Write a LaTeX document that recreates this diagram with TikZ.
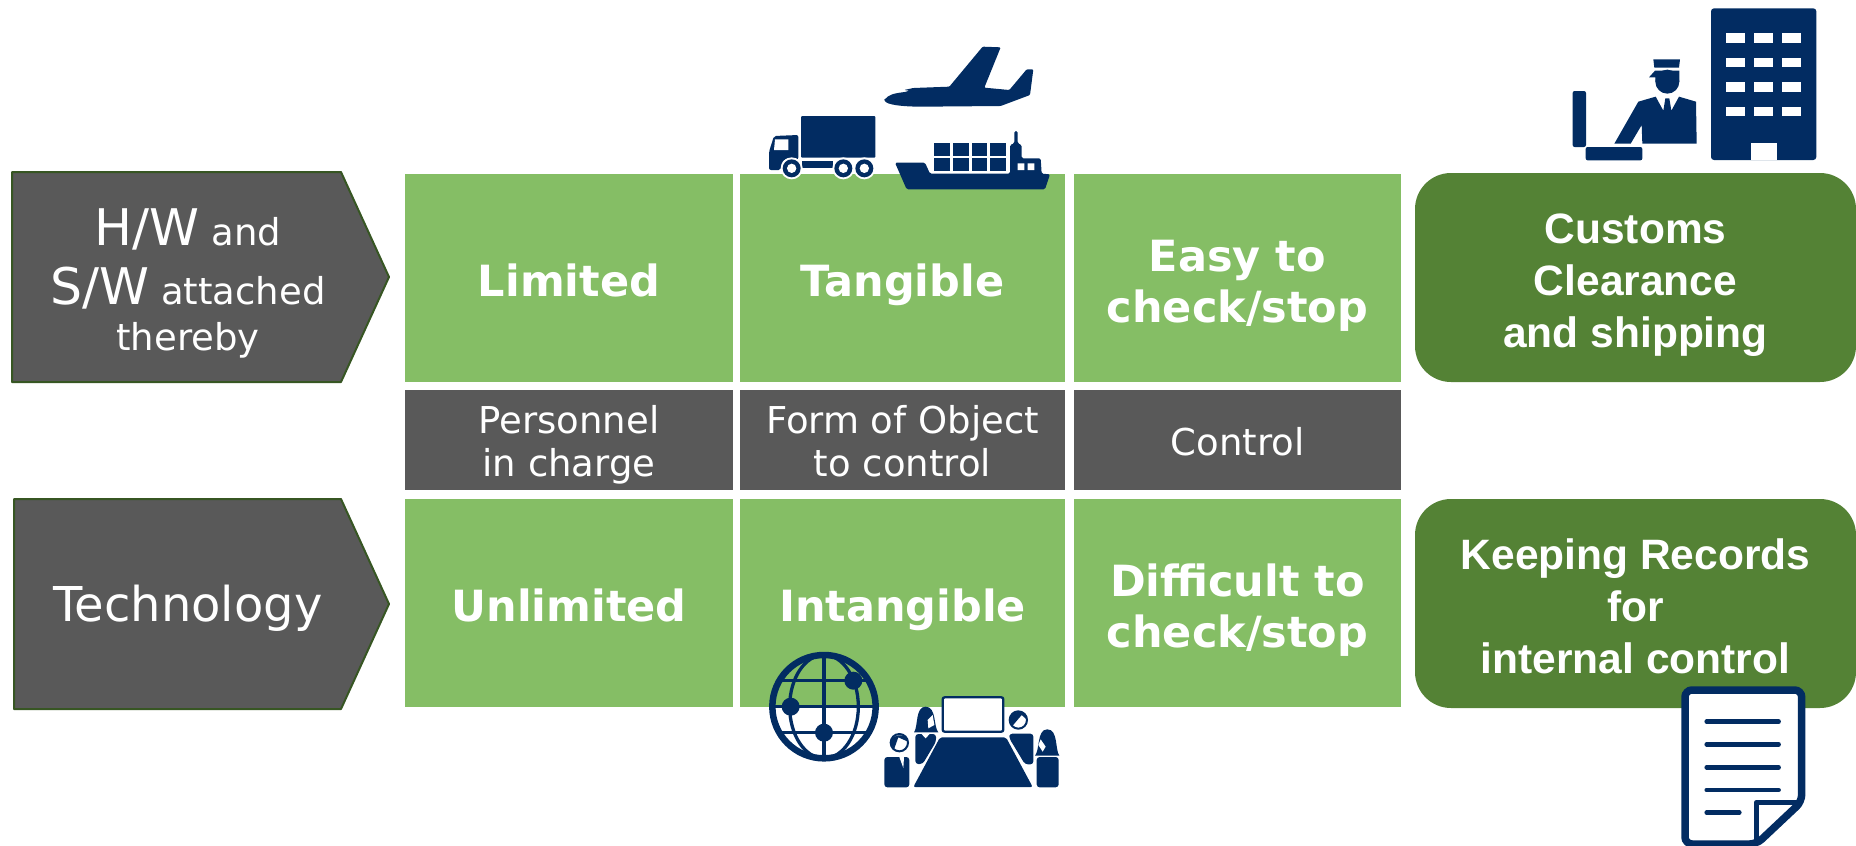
\documentclass[tikz,border=0pt]{standalone}
\usepackage{fontspec}
\setmainfont{DejaVu Sans}
\newfontfamily\arialfont{Liberation Sans}
\definecolor{cellgreen}{HTML}{85BE65}
\definecolor{boxgreen}{HTML}{548235}
\definecolor{rimgreen}{HTML}{375623}
\definecolor{cellgray}{HTML}{595959}
\definecolor{navy}{HTML}{022C62}
\tikzset{
  greencell/.style={fill=cellgreen,text=white,minimum width=#1,minimum height=208pt,inner sep=0pt,align=center,font=\fontsize{43}{51}\selectfont\bfseries},
  graycell/.style={fill=cellgray,text=white,minimum width=#1,minimum height=100pt,inner sep=0pt,align=center,font=\fontsize{37}{43}\selectfont},
  greenbox/.style={fill=boxgreen,text=white,rounded corners=36pt,minimum width=441pt,minimum height=209pt,inner sep=0pt,align=center,font=\fontsize{42.5}{52}\selectfont\arialfont\bfseries},
  arrowbox/.style={fill=cellgray,draw=rimgreen,line width=2pt,line join=round},
  arrowtext/.style={text=white,inner sep=0pt,align=center,font=\fontsize{37}{46}\selectfont},
  icon/.style={fill=navy,draw=none},
  iconline/.style={draw=navy,line cap=round}
}
\newcommand{\bigtxt}[1]{{\fontsize{50.5}{46}\selectfont #1}}
\newcommand{\up}[1]{\rule{0pt}{#1pt}}
\newcommand{\down}[1]{\rule[-#1pt]{0pt}{#1pt}}
\begin{document}
\begin{tikzpicture}[x=1pt,y=-1pt]
\useasboundingbox (0,0) rectangle (1856,846);
\draw[arrowbox] (12,172) -- (341,172) -- (389,277) -- (341,382) -- (12,382) -- cycle;
\draw[arrowbox] (14,499) -- (341,499) -- (389,604) -- (341,709) -- (14,709) -- cycle;
\node[arrowtext] (hwsw) at (188,283) {\bigtxt{H/W} and\\[13pt]\bigtxt{S/W} attached\\thereby};
\node[arrowtext,font=\fontsize{48}{46}\selectfont] (technology) at (188,608) {Technology};

\node[greencell=328pt] (limited) at (569,277.5) {\up{53}Limited\down{15}};
\node[greencell=325pt] (tangible) at (902.5,277.5) {\up{53}Tangible\down{15}};
\node[greencell=327pt] (easy) at (1237.5,277.5) {\up{53}Easy to\\check/stop\down{15}};
\node[graycell=328pt] (personnel) at (569,440) {\up{40}Personnel\\in charge\down{10}};
\node[graycell=325pt] (form) at (902.5,440) {\up{40}Form of Object\\to control\down{10}};
\node[graycell=327pt] (control) at (1237.5,440) {\up{40}Control\down{10}};
\node[greencell=328pt] (unlimited) at (569,602.5) {\up{53}Unlimited\down{15}};
\node[greencell=325pt] (intangible) at (902.5,602.5) {\up{53}Intangible\down{15}};
\node[greencell=327pt] (difficult) at (1237.5,602.5) {\up{53}Difficult to\\check/stop\down{15}};
\node[greenbox] (customs) at (1635.5,277.5) {\up{50}Customs\\Clearance\\and shipping\down{14}};
\node[greenbox] (records) at (1635.5,603.5) {\up{50}Keeping Records\\for\\internal control\down{14}};

\begin{scope}[shift={(750,30)},scale=1/3]
\fill[icon,rounded corners=1pt] (153,258) rectangle (376,383);
\fill[icon,rounded corners=2pt] (57,420) -- (57,365) -- (72,318) -- (145,315) -- (145,388) -- (100,388) -- (92,420) -- cycle;
\fill[white] (75,328) -- (115,328) -- (115,360) -- (72,360) -- cycle;
\fill[icon] (155,392) rectangle (250,415);
\foreach \wx in {125,280,343} {
  \fill[white] (\wx,415) circle (33);
  \fill[icon] (\wx,415) circle (27);
  \fill[white] (\wx,415) circle (14);
}
\fill[icon,rounded corners=1pt] (403,210) .. controls (415,195) and (430,190) .. (465,186) -- (478,182) -- (462,180) -- (490,174) -- (598,170) -- (698,50) -- (752,52) -- (703,173) -- (778,180) -- (830,118) -- (850,118) -- (840,195) -- (752,228) -- (520,230) .. controls (460,230) and (410,225) .. (403,210) -- cycle;
\fill[icon,rounded corners=1.5pt] (435,398) -- (525,398) -- (540,431) -- (780,431) -- (780,345) -- (793,340) -- (793,303) -- (803,303) -- (803,340) -- (815,345) -- (815,385) -- (872,385) -- (875,431) -- (900,433) -- (885,478) -- (470,478) -- cycle;
\fill[white] (803,400) rectangle (823,420) (833,400) rectangle (853,420);
\foreach \cx in {553,609,665,720} {
  \fill[icon] (\cx,340) rectangle +(47,37);
  \fill[icon] (\cx,385) rectangle +(47,37);
}
\end{scope}

\begin{scope}[shift={(1560,0)},scale=1/3]
\fill[icon,rounded corners=2pt] (38,273) rectangle (78,441);
\fill[icon,rounded corners=2pt] (77,441) rectangle (247,481);
\fill[icon] (280,178) -- (360,178) -- (357,203) -- (283,203) -- cycle;
\fill[icon] (267,232) -- (285,212) -- (358,212) -- (358,245) -- (286,245) -- (286,232) -- cycle;
\fill[icon] (322,245) circle (36);
\fill[icon] (163,431) -- (235,305) -- (287,290) -- (310,332) -- (316,295) -- (328,295) -- (334,332) -- (357,290) -- (408,305) -- (410,431) -- (247,431) -- (245,375) -- (212,431) -- cycle;
\fill[icon,rounded corners=3pt] (453,25) rectangle (769,480);
\fill[white] (572,428) rectangle (651,481);
\foreach \bx in {498,583,667}
  \foreach \by in {100,174,247,321}
    \fill[white] (\bx,\by) rectangle +(57,28);
\end{scope}

\begin{scope}[shift={(750,640)},scale=1/3]
\begin{scope}
\clip (222,200) circle (160);
\draw[navy,line width=3.3pt] (62,200) -- (382,200) (222,40) -- (222,360);
\draw[navy,line width=3.3pt] (62,122) -- (382,122) (62,277) -- (382,277);
\draw[navy,line width=3.3pt] (222,200) ellipse (103 and 155);
\end{scope}
\draw[navy,line width=6.5pt] (222,200) circle (155);
\fill[icon] (310,122) circle (27) (122,200) circle (27) (222,278) circle (27);
\draw[draw=navy,fill=white,line width=2.3pt,rounded corners=2pt] (578,172) rectangle (760,275);
\fill[icon,rounded corners=2pt] (570,292) -- (768,292) -- (848,441) -- (490,441) -- cycle;
\fill[icon,rounded corners=3pt] (403,351) -- (478,351) -- (478,442) -- (403,442) -- cycle;
\fill[white] (448,351) -- (462,351) -- (460,384) -- cycle;
\draw[draw=navy,fill=white,line width=2pt] (448,308) circle (26);
\fill[icon] (422,308) .. controls (425,280) and (470,278) .. (474,305) -- (445,292) -- (432,328) -- cycle;
\fill[icon,rounded corners=3pt] (496,282) -- (558,282) -- (558,305) -- (518,372) -- (496,372) -- cycle;
\fill[white] (510,277) -- (543,277) -- (527,295) -- cycle;
\fill[icon] (492,277) .. controls (505,260) and (495,200) .. (527,200) .. controls (560,200) and (550,260) .. (565,277) -- cycle;
\fill[white] (535,265) -- (533,240) -- (548,225) -- (553,255) -- cycle;
\fill[icon,rounded corners=3pt] (860,351) -- (926,351) -- (926,442) -- (860,442) -- cycle;
\fill[icon] (855,347) .. controls (870,330) and (860,268) .. (892,268) .. controls (925,268) and (915,330) .. (928,347) -- cycle;
\fill[white] (878,335) -- (865,315) -- (872,298) -- (887,320) -- cycle;
\fill[icon,rounded corners=3pt] (778,281) -- (850,281) -- (850,373) -- (825,373) -- (778,295) -- cycle;
\draw[draw=navy,fill=white,line width=2pt] (805,240) circle (26);
\fill[icon] (779,240) .. controls (780,215) and (825,200) .. (832,240) -- (815,225) -- (787,258) -- cycle;
\end{scope}

\begin{scope}[shift={(1660,670)},scale=1/3]
\draw[draw=navy,fill=white,line width=7.5pt,rounded corners=7pt] (75,60) -- (425,60) -- (425,395) -- (290,522) -- (75,522) -- cycle;
\draw[draw=navy,line width=5pt,line join=round] (425,397) -- (289,397) -- (289,522);
\foreach \ly in {155,223,292,360}
  \draw[iconline,line width=4.5pt] (140,\ly) -- (356,\ly);
\draw[iconline,line width=4.5pt] (140,428) -- (238,428);
\end{scope}
\end{tikzpicture}
\end{document}
